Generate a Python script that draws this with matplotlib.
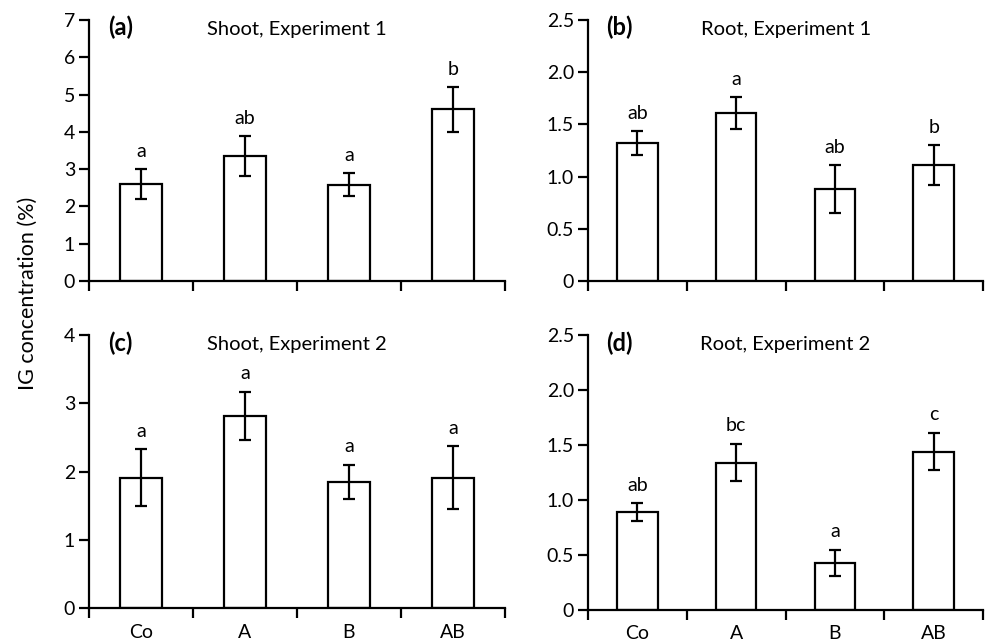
import numpy as np
import matplotlib
matplotlib.use("Agg")
import matplotlib.pyplot as plt

plt.rcParams["font.family"] = ["Lato", "DejaVu Sans"]

# ------------------------------------------------------------------
# data
# ------------------------------------------------------------------
treatments = ["Co", "A", "B", "AB"]

shoot1_mean = [2.60, 3.35, 2.58, 4.60]
shoot1_err = [0.40, 0.53, 0.31, 0.60]
shoot1_sig = ["a", "ab", "a", "b"]

root1_mean = [1.32, 1.61, 0.88, 1.11]
root1_err = [0.115, 0.15, 0.23, 0.19]
root1_sig = ["ab", "a", "ab", "b"]

shoot2_mean = [1.91, 2.82, 1.85, 1.91]
shoot2_err = [0.42, 0.35, 0.25, 0.46]
shoot2_sig = ["a", "a", "a", "a"]

root2_mean = [0.89, 1.34, 0.43, 1.44]
root2_err = [0.08, 0.17, 0.12, 0.17]
root2_sig = ["ab", "bc", "a", "c"]

panels = [
    ("(a)", "Shoot, Experiment 1", shoot1_mean, shoot1_err, shoot1_sig,
     [0, 1, 2, 3, 4, 5, 6, 7], ["0", "1", "2", "3", "4", "5", "6", "7"]),
    ("(b)", "Root, Experiment 1", root1_mean, root1_err, root1_sig,
     [0, 0.5, 1.0, 1.5, 2.0, 2.5], ["0", "0.5", "1.0", "1.5", "2.0", "2.5"]),
    ("(c)", "Shoot, Experiment 2", shoot2_mean, shoot2_err, shoot2_sig,
     [0, 1, 2, 3, 4], ["0", "1", "2", "3", "4"]),
    ("(d)", "Root, Experiment 2", root2_mean, root2_err, root2_sig,
     [0, 0.5, 1.0, 1.5, 2.0, 2.5], ["0", "0.5", "1.0", "1.5", "2.0", "2.5"]),
]

# axes boxes in figure fractions (left, bottom, width, height)
boxes = [
    (0.090, 0.563, 0.420, 0.406),
    (0.594, 0.563, 0.399, 0.406),
    (0.090, 0.054, 0.420, 0.425),
    (0.594, 0.051, 0.399, 0.428),
]

fig = plt.figure(figsize=(9.9, 6.43), dpi=100)
lw = 1.6
fs = 14
x = np.arange(len(treatments)) + 0.5

for k, (tag, title, mean, err, sig, yt, ytl) in enumerate(panels):
    ax = fig.add_axes(boxes[k])
    ymax = yt[-1]
    ax.bar(x, mean, width=0.41, color="white", edgecolor="black",
           linewidth=lw, zorder=2)
    ax.errorbar(x, mean, yerr=err, fmt="none", ecolor="black",
                elinewidth=lw, capsize=4, capthick=lw, zorder=3)
    off = ymax * 0.035
    for xi, m, e, s in zip(x, mean, err, sig):
        ax.text(xi, m + e + off, s, ha="center", va="bottom", fontsize=fs)

    ax.set_xlim(0, 4)
    ax.set_ylim(0, ymax)
    ax.set_yticks(yt)
    ax.set_yticklabels(ytl)
    ax.set_xticks([0, 1, 2, 3, 4])
    ax.set_xticklabels([])
    ax.set_xticks(x, minor=True)
    if k >= 2:
        ax.set_xticklabels(treatments, minor=True)
    ax.tick_params(axis="x", which="major", direction="out", length=7,
                   width=lw)
    ax.tick_params(axis="x", which="minor", length=0, labelsize=fs, pad=11)
    ax.tick_params(axis="y", direction="out", length=7, width=lw,
                   labelsize=fs, pad=3)
    for sp in ["top", "right"]:
        ax.spines[sp].set_visible(False)
    for sp in ["left", "bottom"]:
        ax.spines[sp].set_linewidth(lw)
    ax.spines["left"].set_zorder(4)

    ax.text(0.045, 0.97, tag, transform=ax.transAxes, ha="left", va="center",
            fontsize=17, fontweight="bold")
    ax.text(0.5, 0.965, title, transform=ax.transAxes, ha="center",
            va="center", fontsize=14.5)

fig.text(0.028, 0.544, "IG concentration (%)", rotation=90, ha="center",
         va="center", fontsize=15.5)

fig.savefig("out.png", dpi=100)
